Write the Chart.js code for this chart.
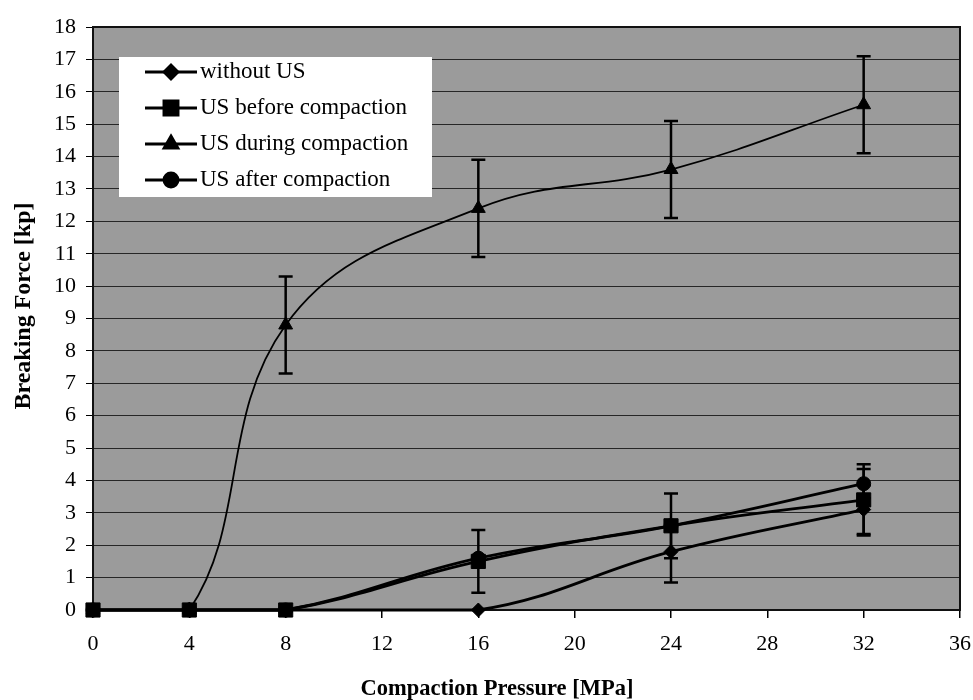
<!DOCTYPE html>
<html>
<head>
<meta charset="utf-8">
<script src="https://cdn.jsdelivr.net/npm/chart.js@4/dist/chart.umd.min.js"></script>
<style>
  body { margin: 0; background: #fff; }
  #wrap { width: 973px; height: 700px; }
</style>
</head>
<body>
<div id="wrap"><canvas id="chart" width="973" height="700"></canvas></div>
<script>
// compaction pressure [MPa]
const pressures = [0, 4, 8, 16, 24, 32];

// breaking force [kp] per series
const withoutUS = [0, 0, 0, 0, 1.8, 3.1];
const usBefore = [0, 0, 0, 1.5, 2.6, 3.4];
const usDuring = [0, 0, 8.8, 12.4, 13.6, 15.6];
const usAfter = [0, 0, 0, 1.6, 2.6, 3.9];

// error bars (+/-), null = not shown
const errWithout = [null, null, null, null, 0.95, 0.75];
const errBefore = [null, null, null, 0.97, 1.0, 1.1];
const errDuring = [null, null, 1.5, 1.5, 1.5, 1.5];
const errAfter = [null, null, null, null, null, 0.45];

const seriesLabels = ['without US', 'US before compaction', 'US during compaction', 'US after compaction'];
const xTicks = [0, 4, 8, 12, 16, 20, 24, 28, 32, 36];

const serif = "'Liberation Serif', 'Times New Roman', serif";

const toPoints = arr => pressures.map((x, i) => ({ x, y: arr[i] }));

const mkSet = (label, arr, err, style, radius, width) => ({
    label,
    data: toPoints(arr),
    errors: err,
    borderColor: '#000',
    backgroundColor: '#000',
    borderWidth: width,
    pointStyle: style,
    pointRadius: radius,
    pointBorderWidth: 1,
    tension: 0.4,
    clip: false,
    fill: false
});

const datasets = [
    mkSet(seriesLabels[0], withoutUS, errWithout, 'rectRot', 7, 2.8),
    mkSet(seriesLabels[1], usBefore, errBefore, 'rect', 10, 2.8),
    mkSet(seriesLabels[2], usDuring, errDuring, 'triangle', 8, 1.8),
    mkSet(seriesLabels[3], usAfter, errAfter, 'circle', 7, 2.8)
];

// plot background + frame
const plotArea = {
    id: 'plotArea',
    beforeDraw(chart) {
        const { ctx, chartArea: a } = chart;
        ctx.save();
        ctx.fillStyle = '#9b9b9b';
        ctx.fillRect(a.left, a.top, a.right - a.left, a.bottom - a.top);
        ctx.restore();
    },
    beforeDatasetsDraw(chart) {
        const { ctx, chartArea: a } = chart;
        ctx.save();
        ctx.strokeStyle = '#111';
        ctx.lineWidth = 2;
        ctx.strokeRect(a.left, a.top, a.right - a.left, a.bottom - a.top);
        ctx.restore();
    }
};

// vertical error bars with caps
const errorBars = {
    id: 'errorBars',
    afterDatasetsDraw(chart) {
        const { ctx, scales: { x, y } } = chart;
        ctx.save();
        ctx.strokeStyle = '#000';
        ctx.lineWidth = 2.5;
        chart.data.datasets.forEach(ds => {
            ds.data.forEach((p, i) => {
                const e = ds.errors[i];
                if (e == null) return;
                const px = x.getPixelForValue(p.x);
                const top = y.getPixelForValue(p.y + e);
                const bot = y.getPixelForValue(p.y - e);
                ctx.beginPath();
                ctx.moveTo(px, top); ctx.lineTo(px, bot);
                ctx.moveTo(px - 7, top); ctx.lineTo(px + 7, top);
                ctx.moveTo(px - 7, bot); ctx.lineTo(px + 7, bot);
                ctx.stroke();
            });
        });
        ctx.restore();
    }
};

// legend box inside plot
const boxLegend = {
    id: 'boxLegend',
    afterDraw(chart) {
        const { ctx } = chart;
        const bx = 119, by = 57, bw = 313, bh = 140;
        ctx.save();
        ctx.fillStyle = '#fff';
        ctx.fillRect(bx, by, bw, bh);
        ctx.font = '23px ' + serif;
        ctx.textBaseline = 'middle';
        chart.data.datasets.forEach((ds, i) => {
            const cy = 72 + i * 36;
            ctx.strokeStyle = '#000';
            ctx.lineWidth = 2.8;
            ctx.beginPath();
            ctx.moveTo(145, cy); ctx.lineTo(197, cy);
            ctx.stroke();
            ctx.fillStyle = '#000';
            Chart.helpers.drawPoint(ctx, { pointStyle: ds.pointStyle, radius: ds.pointRadius, borderWidth: 1 }, 171, cy);
            ctx.fillStyle = '#000';
            ctx.fillText(ds.label, 200, cy);
        });
        ctx.restore();
    }
};

// axis titles
const axisTitles = {
    id: 'axisTitles',
    afterDraw(chart) {
        const { ctx } = chart;
        ctx.save();
        ctx.fillStyle = '#000';
        ctx.textAlign = 'center';
        ctx.textBaseline = 'middle';
        ctx.font = 'bold 22.5px ' + serif;
        ctx.fillText('Compaction Pressure [MPa]', 497, 689);
        ctx.translate(24, 306);
        ctx.rotate(-Math.PI / 2);
        ctx.font = 'bold 24px ' + serif;
        ctx.fillText('Breaking Force [kp]', 0, 0);
        ctx.restore();
    }
};

new Chart(document.getElementById('chart'), {
    type: 'line',
    data: { datasets },
    options: {
        responsive: false,
        animation: false,
        layout: { padding: { top: 27, right: 0, left: 0, bottom: 0 } },
        plugins: { legend: { display: false }, tooltip: { enabled: false } },
        scales: {
            x: {
                type: 'linear',
                min: 0, max: 36,
                afterBuildTicks: s => { s.ticks = xTicks.map(v => ({ value: v })); },
                afterFit: s => { s.height = 90; s.paddingRight = 13; s.paddingLeft = 0; },
                grid: { drawOnChartArea: false, drawTicks: true, tickLength: 8, tickColor: '#000', lineWidth: 1.5 },
                border: { display: true, color: '#111', width: 2 },
                ticks: { color: '#000', font: { family: serif, size: 22 }, padding: 13, maxRotation: 0 }
            },
            y: {
                min: 0, max: 18,
                afterFit: s => { s.width = 93; },
                grid: { color: '#262626', lineWidth: 1, drawTicks: true, tickLength: 7, tickColor: '#000' },
                border: { display: true, color: '#111', width: 2 },
                ticks: { stepSize: 1, color: '#000', font: { family: serif, size: 22 }, padding: 10 }
            }
        }
    },
    plugins: [plotArea, errorBars, boxLegend, axisTitles]
});
</script>
</body>
</html>
